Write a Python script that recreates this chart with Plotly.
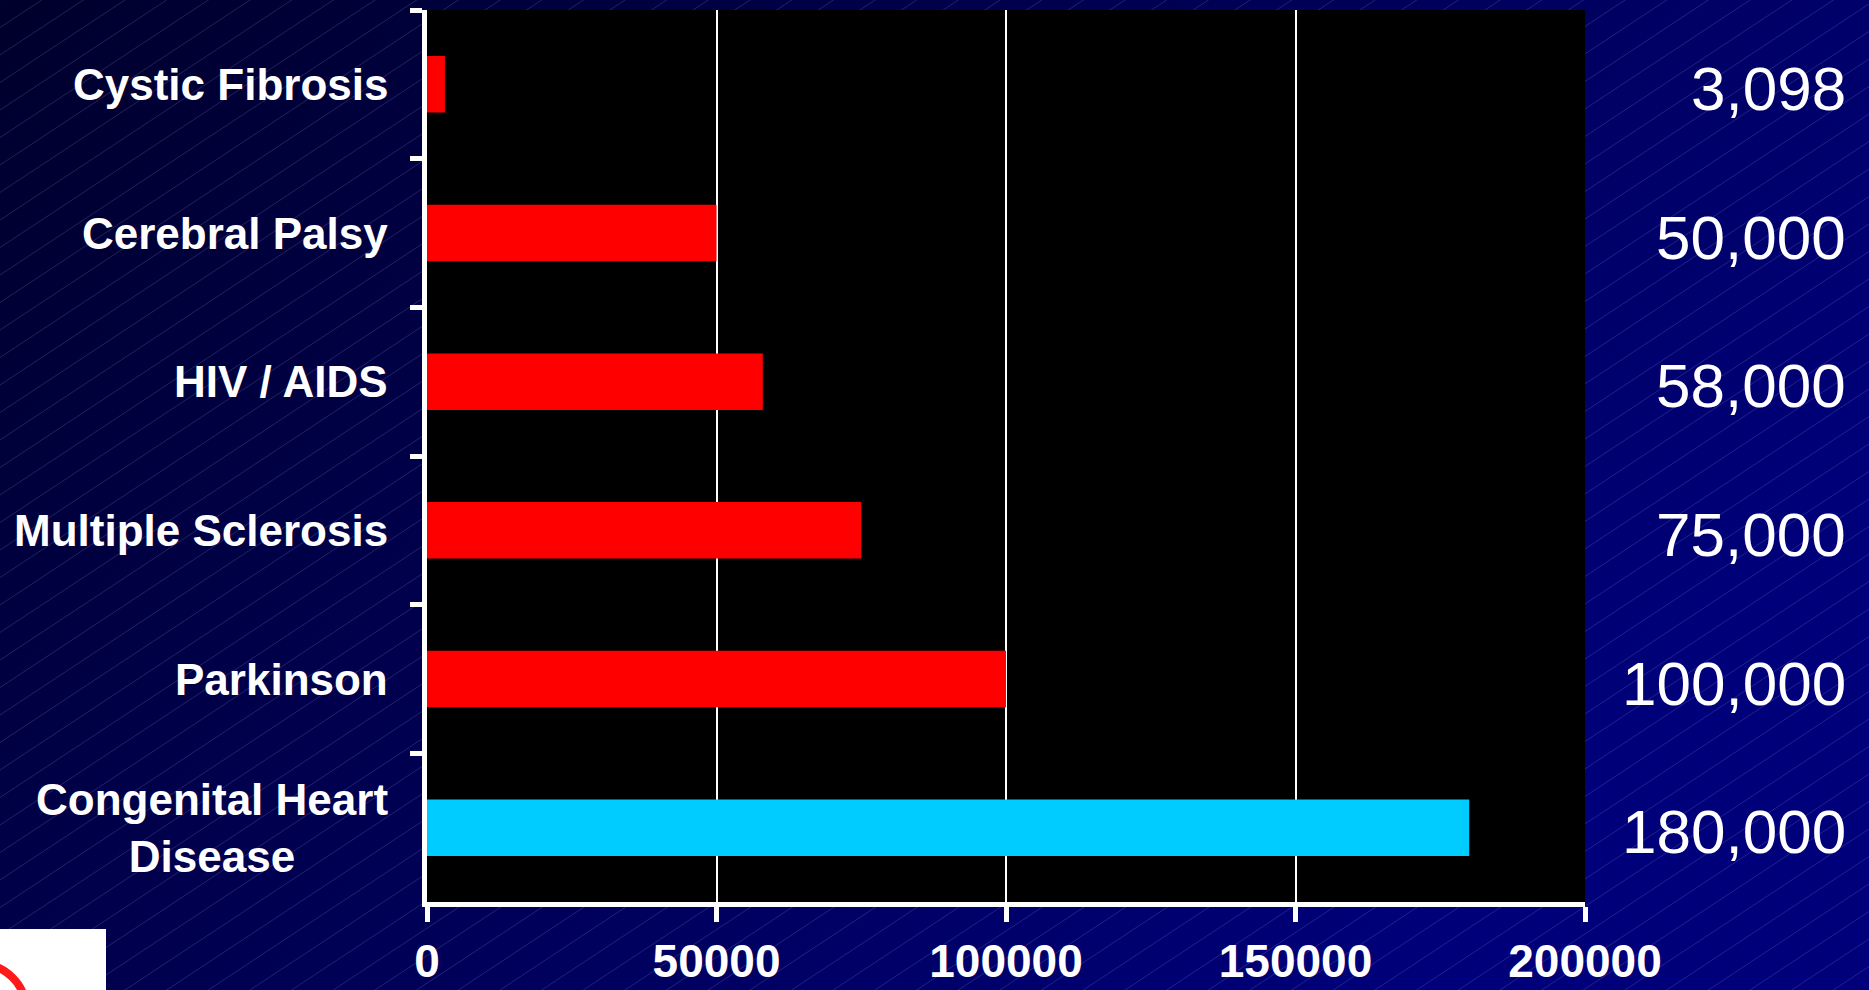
import base64
import plotly.graph_objects as go

# ---- data ----
categories = ["Cystic Fibrosis", "Cerebral Palsy", "HIV / AIDS",
              "Multiple Sclerosis", "Parkinson", "Congenital Heart<br>Disease"]
values = [3098, 50000, 58000, 75000, 100000, 180000]
bar_colors = ["#FF0000", "#FF0000", "#FF0000", "#FF0000", "#FF0000", "#00CCFF"]
x_ticks = [0, 50000, 100000, 150000, 200000]

# ---- layout geometry ----
W, H = 1869, 990
ML, MR, MT, MB = 427, 284, 10, 88
PW, PH = W - ML - MR, H - MT - MB

# ---- decorative background (gradient + diagonal hairlines + logo corner) ----
lines = []
step = 27.5
slope = 0.66
c = 0.0
while c < H + W * slope + step:
    lines.append(f'<line x1="0" y1="{c:.1f}" x2="{W}" y2="{c - slope * W:.1f}"/>')
    c += step
svg = f'''<svg xmlns="http://www.w3.org/2000/svg" width="{W}" height="{H}" viewBox="0 0 {W} {H}">
<defs><linearGradient id="g" x1="0" y1="0" x2="1" y2="0.5">
<stop offset="0" stop-color="#00002C"/><stop offset="1" stop-color="#00007A"/>
</linearGradient></defs>
<rect width="{W}" height="{H}" fill="url(#g)"/>
<g stroke="#9090D0" stroke-opacity="0.24" stroke-width="1">{''.join(lines)}</g>
<rect x="0" y="929" width="106" height="61" fill="#FFFFFF"/>
<circle cx="-20" cy="1010" r="46" fill="none" stroke="#FF1A1A" stroke-width="8"/>
</svg>'''
bg_src = "data:image/svg+xml;base64," + base64.b64encode(svg.encode()).decode()

fig = go.Figure()
fig.add_trace(go.Bar(
    y=categories, x=values, orientation="h",
    marker=dict(color=bar_colors, line=dict(width=0)),
    width=0.38, hoverinfo="x+y",
))

annotations = []
for cat in categories:
    annotations.append(dict(
        xref="paper", yref="y", x=0, y=cat, xanchor="right", yanchor="middle",
        xshift=-37, text="<b>" + cat.replace("<br>", "</b><br><b>") + "</b>",
        showarrow=False, align="center",
        font=dict(family="Liberation Sans, Arial, sans-serif", size=44, color="white"),
    ))
for cat, v in zip(categories, values):
    annotations.append(dict(
        xref="paper", yref="y", x=1, y=cat, xanchor="right", yanchor="middle",
        xshift=MR - 21, yshift=-4, text=f"{v:,}", showarrow=False,
        font=dict(family="Liberation Sans, Arial, sans-serif", size=62, color="white"),
    ))

fig.update_layout(
    template="none",
    width=W, height=H,
    margin=dict(l=ML, r=MR, t=MT, b=MB, pad=0, autoexpand=False),
    paper_bgcolor="#000044",
    plot_bgcolor="black",
    showlegend=False,
    bargap=0.62,
    annotations=annotations,
    images=[dict(
        source=bg_src, xref="paper", yref="paper",
        x=-ML / PW, y=1 + MT / PH, sizex=W / PW, sizey=H / PH,
        xanchor="left", yanchor="top", sizing="stretch", layer="below",
    )],
    shapes=[dict(
        type="rect", xref="x domain", yref="y domain", x0=0, x1=1, y0=0, y1=1,
        fillcolor="black", line=dict(width=0), layer="below",
    )],
    xaxis=dict(
        range=[0, 200000], tickvals=x_ticks, ticktext=[str(t) for t in x_ticks],
        showgrid=True, gridcolor="white", gridwidth=2,
        showline=True, linecolor="white", linewidth=5,
        ticks="outside", ticklen=15, tickwidth=5, tickcolor="white",
        tickfont=dict(family="Liberation Sans, Arial, sans-serif",
                      size=46, color="white", weight="bold"),
        ticklabelstandoff=0, zeroline=False, fixedrange=True, automargin=False,
    ),
    yaxis=dict(
        categoryorder="array", categoryarray=categories, autorange="reversed",
        showticklabels=False, showgrid=False, zeroline=False,
        showline=True, linecolor="white", linewidth=5,
        ticks="outside", ticklen=12, tickwidth=5, tickcolor="white",
        tickson="boundaries", fixedrange=True, automargin=False,
    ),
)

fig.write_html("out.html")
